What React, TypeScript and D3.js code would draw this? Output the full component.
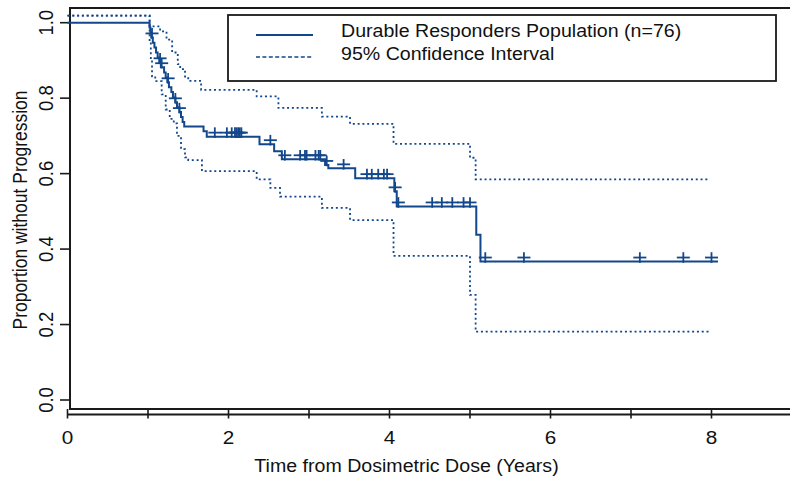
import React, { useRef, useEffect } from "react";
import * as d3 from "d3";

// Kaplan-Meier step function (start time of each step, proportion)
const kmTimes = [0, 1.02, 1.03, 1.04, 1.06, 1.08, 1.1, 1.12, 1.14, 1.16, 1.2, 1.22, 1.24, 1.26, 1.29, 1.31, 1.34, 1.36, 1.39, 1.41, 1.43, 1.45, 1.69, 1.73, 2.385, 2.567, 2.663, 3.2, 3.24, 3.574, 4.06, 4.09, 5.078, 5.13, 8.08];
const kmSurv = [1.0, 0.987, 0.974, 0.961, 0.947, 0.934, 0.921, 0.908, 0.895, 0.882, 0.868, 0.855, 0.842, 0.829, 0.816, 0.802, 0.789, 0.776, 0.763, 0.75, 0.737, 0.725, 0.712, 0.698, 0.678, 0.659, 0.638, 0.623, 0.614, 0.588, 0.553, 0.513, 0.438, 0.367, 0.367];

// censored observations
const censorTimes = [1.05, 1.15, 1.17, 1.25, 1.34, 1.39, 1.83, 1.98, 2.04, 2.08, 2.1, 2.12, 2.14, 2.16, 2.52, 2.7, 2.89, 2.95, 2.97, 3.08, 3.12, 3.14, 3.22, 3.43, 3.72, 3.78, 3.86, 3.93, 3.97, 4.07, 4.11, 4.53, 4.65, 4.78, 4.92, 5.0, 5.19, 5.67, 7.11, 7.65, 8.0];

// 95% CI bounds
const upperTimes = [0, 1.02, 1.15, 1.23, 1.3, 1.37, 1.4, 1.46, 1.5, 1.66, 2.35, 2.62, 3.16, 3.51, 4.05, 5.0, 5.07, 7.97];
const upperSurv = [1.019, 0.99, 0.977, 0.955, 0.921, 0.89, 0.877, 0.857, 0.846, 0.822, 0.8045, 0.774, 0.751, 0.732, 0.679, 0.642, 0.585, 0.585];
const lowerTimes = [0, 1.02, 1.035, 1.05, 1.09, 1.17, 1.22, 1.27, 1.32, 1.36, 1.41, 1.46, 1.5, 1.67, 2.35, 2.52, 2.64, 3.16, 3.51, 4.05, 5.0, 5.07, 7.97];
const lowerSurv = [1.019, 0.95, 0.9, 0.858, 0.845, 0.81, 0.77, 0.745, 0.733, 0.7, 0.665, 0.643, 0.636, 0.6065, 0.5845, 0.562, 0.539, 0.509, 0.477, 0.382, 0.2785, 0.181, 0.181];

const xTicks = [0, 1, 2, 3, 4, 5, 6, 7, 8, 9];
const xTickLabels = [0, 2, 4, 6, 8];
const yTicks = [0, 0.2, 0.4, 0.6, 0.8, 1.0];
const legendLabels = ["Durable Responders Population (n=76)", "95% Confidence Interval"];
const xTitle = "Time from Dosimetric Dose (Years)";
const yTitle = "Proportion without Progression";

const BLUE = "#12478b";
const FONT = "'Liberation Sans', Arial, sans-serif";
const SX = 1.12;

const App = () => {
	const chartRef = useRef<SVGSVGElement>(null);

	useEffect(() => {
		const width = 790;
		const height = 479;
		const svg = d3.select(chartRef.current).attr("width", width).attr("height", height);
		svg.selectAll("*").remove();

		const x = d3.scaleLinear().domain([0, 9]).range([67.5, 792]);
		const y = d3.scaleLinear().domain([0, 1]).range([400, 22.7]);

		const stepLine = d3
			.line<[number, number]>()
			.x(d => x(d[0]))
			.y(d => y(d[1]))
			.curve(d3.curveStepAfter);

		const zip = (ts: number[], vs: number[]) => ts.map((t, i) => [t, vs[i]] as [number, number]);

		function survAt(t: number) {
			let v = kmSurv[0];
			kmTimes.forEach((kt, i) => {
				if (kt <= t) v = kmSurv[i];
			});
			return v;
		}

		// box
		svg.append("path")
			.attr("d", `M 790,8 H 70 V 409 H 790`)
			.attr("fill", "none")
			.attr("stroke", "#1a1a1a")
			.attr("stroke-width", 2);

		// x axis
		svg.append("line")
			.attr("x1", x(0)).attr("x2", 790)
			.attr("y1", 414.5).attr("y2", 414.5)
			.attr("stroke", "#1a1a1a").attr("stroke-width", 2);
		svg.selectAll(".xtick")
			.data(xTicks)
			.enter()
			.append("line")
			.attr("x1", d => x(d)).attr("x2", d => x(d))
			.attr("y1", 409).attr("y2", 418.5)
			.attr("stroke", "#1a1a1a").attr("stroke-width", 1.6);
		svg.selectAll(".xlab")
			.data(xTickLabels)
			.enter()
			.append("text")
			.attr("transform", d => `translate(${x(d)},444) scale(${SX},1)`)
			.attr("text-anchor", "middle")
			.attr("font-family", FONT)
			.attr("font-size", 18.5)
			.attr("fill", "#111")
			.text(d => d);
		svg.append("text")
			.attr("transform", `translate(406.5,472) scale(${SX},1)`)
			.attr("text-anchor", "middle")
			.attr("font-family", FONT)
			.attr("font-size", 17.5)
			.attr("fill", "#111")
			.text(xTitle);

		// y axis
		svg.selectAll(".ytick")
			.data(yTicks)
			.enter()
			.append("line")
			.attr("x1", 60).attr("x2", 70)
			.attr("y1", d => y(d)).attr("y2", d => y(d))
			.attr("stroke", "#1a1a1a").attr("stroke-width", 1.6);
		svg.selectAll(".ylab")
			.data(yTicks)
			.enter()
			.append("text")
			.attr("transform", d => `translate(52.5,${y(d)}) scale(${SX},1) rotate(-90)`)
			.attr("text-anchor", "middle")
			.attr("font-family", FONT)
			.attr("font-size", 18.5)
			.attr("fill", "#111")
			.text(d => d.toFixed(1));
		svg.append("text")
			.attr("transform", `translate(26.5,210) scale(${SX},1) rotate(-90)`)
			.attr("text-anchor", "middle")
			.attr("font-family", FONT)
			.attr("font-size", 17.5)
			.attr("fill", "#111")
			.text(yTitle);

		// confidence interval
		[zip(upperTimes, upperSurv), zip(lowerTimes, lowerSurv)].forEach(band => {
			svg.append("path")
				.attr("d", stepLine(band))
				.attr("fill", "none")
				.attr("stroke", BLUE)
				.attr("stroke-width", 1.8)
				.attr("stroke-dasharray", "2,2.8");
		});

		// KM curve
		svg.append("path")
			.attr("d", stepLine(zip(kmTimes, kmSurv)))
			.attr("fill", "none")
			.attr("stroke", BLUE)
			.attr("stroke-width", 2);

		// censor marks
		const marks = svg.append("g").attr("stroke", BLUE).attr("stroke-width", 1.8);
		censorTimes.forEach(t => {
			const cx = x(t);
			const cy = y(survAt(t)) - 4;
			marks.append("line").attr("x1", cx - 6.5).attr("x2", cx + 6.5).attr("y1", cy).attr("y2", cy);
			marks.append("line").attr("x1", cx).attr("x2", cx).attr("y1", cy - 5.3).attr("y2", cy + 5.3);
		});

		// legend
		const lg = svg.append("g");
		lg.append("rect")
			.attr("x", 228).attr("y", 15)
			.attr("width", 548).attr("height", 66)
			.attr("fill", "white")
			.attr("stroke", "#1a1a1a").attr("stroke-width", 1.8);
		lg.append("line")
			.attr("x1", 256).attr("x2", 313).attr("y1", 35).attr("y2", 35)
			.attr("stroke", BLUE).attr("stroke-width", 1.8);
		lg.append("line")
			.attr("x1", 256).attr("x2", 313).attr("y1", 57).attr("y2", 57)
			.attr("stroke", BLUE).attr("stroke-width", 1.6)
			.attr("stroke-dasharray", "4,2.4");
		lg.selectAll(".ltext")
			.data(legendLabels)
			.enter()
			.append("text")
			.attr("transform", (d, i) => `translate(341,${37 + i * 23}) scale(${SX},1)`)
			.attr("font-family", FONT)
			.attr("font-size", 17.5)
			.attr("fill", "#111")
			.text(d => d);
	}, []);

	return (
		<div style={{ position: "absolute", left: 0, top: 0, width: 790, height: 479, background: "white" }}>
			<svg ref={chartRef} style={{ display: "block" }}></svg>
		</div>
	);
};

export default App;
